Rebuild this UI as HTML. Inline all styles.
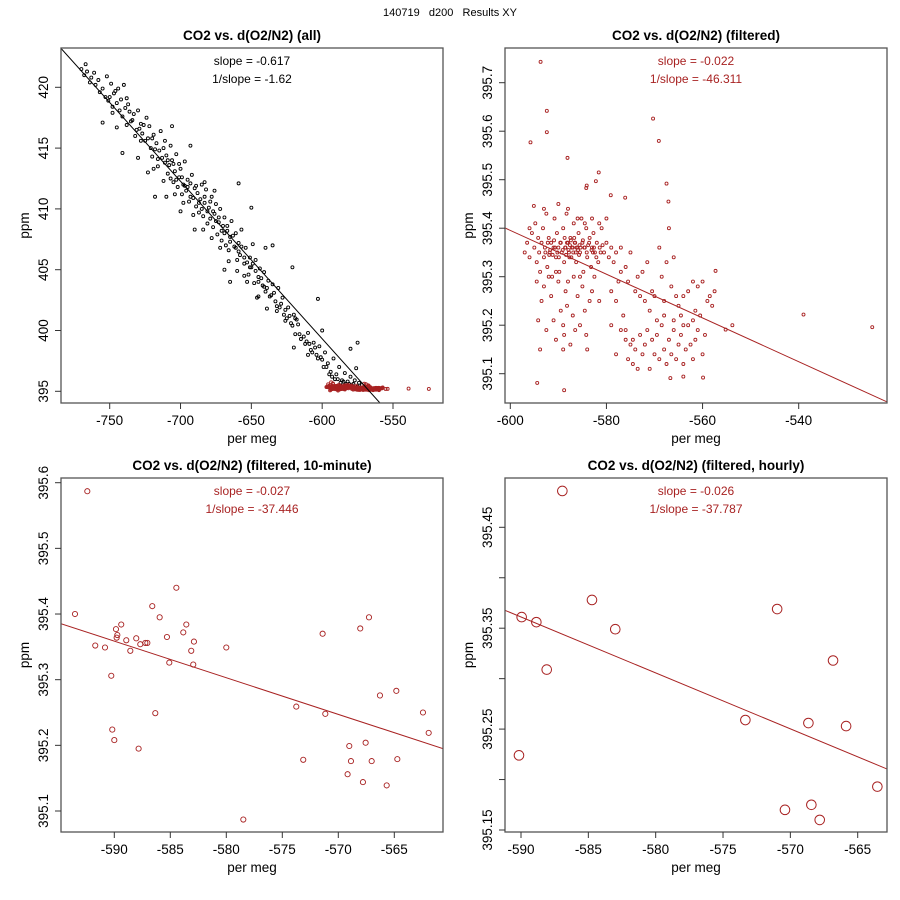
<!DOCTYPE html>
<html><head><meta charset="utf-8"><style>
body{margin:0;background:#fff}
svg{display:block;font-family:"Liberation Sans",sans-serif}
</style></head><body>
<svg id="c" width="900" height="900" viewBox="0 0 900 900">
<text x="450" y="16" text-anchor="middle" font-size="11" style="white-space:pre" xml:space="preserve">140719   d200   Results XY</text>
</svg>
<script>
// ---- data ----
const allX = [-770,-767,-766,-763,-760,-758,-755,-752,-750,-749,-747,-745,-744,-742,-740,-739,-738,-736,-735,-733,-731,-730,-728,-727,-725,-724,-722,-721,-720,-719,-717,-716,-715,-714,-712,-711,-710,-709,-708,-707,-706,-705,-704,-703,-702,-701,-700,-699,-698,-697,-696,-695,-694,-693,-692,-690,-689,-688,-687,-686,-685,-684,-683,-682,-681,-680,-679,-678,-677,-676,-675,-674,-673,-672,-671,-670,-669,-668,-667,-666,-665,-664,-662,-661,-660,-659,-658,-657,-655,-654,-652,-651,-650,-649,-648,-647,-645,-644,-642,-641,-640,-638,-636,-635,-633,-631,-630,-628,-627,-625,-624,-622,-620,-619,-617,-615,-612,-610,-608,-606,-604,-602,-600,-598,-596,-594,-592,-590,-588,-586,-584,-582,-580,-578,-576,-574,-572,
-755,-741,-723,-718,-706,-693,-683,-676,-669,-659,-650,-640,-635,-621,-619,-603,-620,-600,-575,-610,-580,-700,-710,-730,-745,-690,-665,-655,-645,
-768,-764,-761,-757,-753,-751,-748,-746,-743,-741,-737,-734,-732,-729,-726,-723,-720,-718,-716,-713,-711,-709,-707,-705,-703,-701,-699,-697,-695,-693,-691,-689,-687,-685,-683,-681,-679,-677,-675,-673,-671,-669,-667,-665,-663,-661,-659,-657,-655,-653,-651,-649,-647,-645,-643,-641,-639,-637,-634,-632,-629,-626,-623,-621,-618,-616,-613,-611,-609,-607,-605,-603,-601,-599,-597,-595,-593,-591,-589,-587,-585,-583,-581,-579,-577,-575,-573,
-748,-738,-728,-719,-712,-704,-698,-691,-684,-678,-672,-666,-660,-653,-646,-639,-632,-626];
const allY = [421.5,421.9,421.3,420.8,420.2,420.6,419.9,420.9,419.2,420.3,419.5,418.7,419.9,419.0,420.2,418.3,419.1,418.0,417.2,417.8,416.5,418.1,417.0,416.2,415.6,417.5,416.8,415.0,414.3,416.1,415.4,413.5,414.8,416.4,415.0,413.8,414.4,412.9,413.6,415.2,414.0,412.2,413.1,414.5,411.8,412.6,413.3,411.2,412.0,413.9,411.5,412.4,410.6,411.0,412.8,411.7,410.2,411.3,409.7,410.8,412.0,409.4,410.5,411.6,408.8,410.1,409.2,411.0,408.5,409.6,410.4,407.9,408.9,410.0,407.4,408.6,409.3,407.0,408.2,406.6,407.7,409.0,406.9,408.0,405.8,407.2,406.2,408.3,405.5,406.8,404.6,406.0,405.2,407.1,403.9,405.8,404.4,405.1,403.7,404.8,403.2,404.1,402.9,403.8,402.4,403.5,401.9,402.7,401.3,401.0,401.9,400.6,401.3,399.7,400.5,399.3,398.9,399.8,398.4,399.0,398.0,398.7,397.6,398.2,397.3,396.6,397.7,396.4,397.0,395.9,396.5,395.8,396.2,395.6,396.9,395.7,395.5,
417.1,414.6,413.0,411.0,416.8,415.2,412.2,411.5,405.0,412.1,410.1,406.8,407.0,405.2,401.0,402.6,398.6,400.0,399.0,398.0,398.5,409.8,411.0,414.2,416.7,408.3,404.0,404.5,402.8,
421.0,420.4,421.2,419.6,419.2,418.9,418.4,419.7,418.1,417.6,418.6,417.3,416.0,416.6,416.9,415.8,415.8,414.9,414.1,414.2,415.6,414.0,412.5,413.7,412.4,413.7,412.6,411.9,411.8,412.1,410.9,411.9,410.5,410.0,411.0,409.8,410.6,409.8,409.0,409.3,408.2,408.0,408.6,407.3,407.8,406.8,406.5,406.9,406.0,405.6,405.2,405.5,404.9,404.0,404.3,403.6,403.5,402.8,403.1,402.0,402.2,401.7,401.2,400.4,400.9,399.7,399.5,399.1,398.9,398.2,398.6,397.7,397.8,397.0,397.0,396.4,396.2,396.0,396.0,395.7,395.8,395.6,395.6,395.5,395.9,395.4,395.3,
417.9,416.9,415.6,413.3,412.3,411.2,410.5,409.5,408.3,407.6,406.8,405.7,404.9,404.0,402.7,401.8,401.6,400.8];
const filtX = [-597,-596.5,-596,-595.5,-595,-594.8,-594.5,-594.2,-594,-593.8,-593.5,-593.2,-593,-592.8,-592.5,-592.3,-592,-591.8,-591.5,-591.3,-591,-590.8,-590.5,-590.3,-590,-589.8,-589.5,-589.3,-589,-588.8,-588.5,-588.3,-588,-587.8,-587.5,-587.3,-587,-586.8,-586.5,-586.3,-586,-585.8,-585.5,-585.2,-585,-584.8,-584.5,-584.2,-584,-583.5,-583.2,-583,-582.7,-582.4,-582,-581.7,-581.4,-581,-580.5,-580,-579.5,-579,-578.5,-578,-577,-576,-577.5,
-596,-593,-590,-588,-586,-584.5,-583,-581.5,-580,
-594.2,-593.8,-593.5,-593,-592.5,-592,-591.5,-591,-590.5,-590,-589.5,-589,-588.8,-588.5,-588.2,-588,-587.5,-587,-586.8,-586.5,-586,-585.5,-585,-584.5,-584.2,-584,-583.5,-583,-582.5,-581.5,-594.5,-590.5,-589,-585.5,
-579,-578,-577,-576.5,-576,-575.5,-575,-574.5,-574,-573.5,-573,-572.5,-572,-571.5,-571,-570.5,-570,-569.5,-569,-568.5,-568,-567.5,-567,-566.5,-566,-565.5,-565,-564.5,-564,-563,-562,-561.5,-561,-560.5,-560,-559.5,-559,-558.5,-558,-557.5,
-576,-575.5,-575,-574.5,-574,-573.5,-573,-572.5,-572,-571.5,-571,-570.5,-570,-569.5,-569,-568.5,-568,-567.5,-567,-566.5,-566,-565.5,-565,-564.5,-564,-563.5,-563,-562.5,-562,-561.5,-561,-560,-577,-578,-579,-568,-566,-564,-562,
-593.7,-592.4,-592.4,-595.8,-588.1,-581.6,-582.2,-584.1,-584.2,-579.1,-576.1,-570.3,-569.1,-567.5,-567.1,-595.1,-539.0,-524.7,-594.4,-588.8,-566.7,-564.0,-559.9,-557.3,-553.8,-555.2,
-588.6,-588.2,-587.9,-587.6,-587.2,-586.9,-586.6,-586.2,-585.9,-585.6,-588.4,-587.4,-586.4,-585.4,-589.1,-589.6,-590.2,-590.7,-591.2,-591.7,-592.2,-592.7,-584.6,-584.1,-583.6,-583.1,-582.6,-582.1,-581.2,-580.8,-588.7,-587.7,-586.7,-585.7,-584.9,-589.9,-590.9,-591.9,-583.8,-582.8];
const filtY = [395.35,395.37,395.34,395.39,395.36,395.41,395.33,395.38,395.35,395.31,395.37,395.40,395.34,395.36,395.43,395.32,395.38,395.35,395.37,395.30,395.36,395.42,395.34,395.39,395.36,395.31,395.37,395.35,395.40,395.33,395.36,395.43,395.37,395.35,395.38,395.34,395.36,395.41,395.37,395.33,395.36,395.39,395.35,395.42,395.37,395.31,395.36,395.40,395.34,395.38,395.32,395.36,395.39,395.35,395.37,395.33,395.36,395.40,395.35,395.37,395.34,395.36,395.33,395.35,395.36,395.32,395.29,
395.40,395.44,395.45,395.44,395.42,395.41,395.42,395.41,395.42,
395.21,395.15,395.25,395.28,395.19,395.30,395.26,395.21,395.17,395.29,395.23,395.20,395.18,395.27,395.24,395.29,395.16,395.22,395.30,395.19,395.26,395.20,395.28,395.23,395.18,395.15,395.25,395.27,395.30,395.25,395.29,395.31,395.15,395.30,
395.27,395.25,395.31,395.22,395.19,395.29,395.35,395.17,395.27,395.30,395.26,395.31,395.25,395.33,395.23,395.27,395.26,395.21,395.36,395.30,395.25,395.33,395.40,395.28,395.34,395.26,395.24,395.22,395.26,395.27,395.29,395.23,395.28,395.22,395.29,395.18,395.25,395.26,395.24,395.27,
395.17,395.13,395.16,395.12,395.15,395.11,395.18,395.14,395.16,395.19,395.11,395.17,395.14,395.18,395.13,395.20,395.15,395.12,395.17,395.14,395.19,395.13,395.16,395.18,395.12,395.15,395.20,395.16,395.13,395.17,395.19,395.14,395.19,395.14,395.20,395.22,395.21,395.20,395.21,
395.743,395.642,395.598,395.577,395.545,395.515,395.497,395.488,395.483,395.468,395.463,395.626,395.580,395.492,395.455,395.446,395.222,395.196,395.081,395.066,395.091,395.094,395.092,395.312,395.200,395.191,
395.36,395.37,395.355,395.365,395.36,395.35,395.37,395.36,395.355,395.365,395.345,395.375,395.35,395.36,395.355,395.37,395.35,395.36,395.345,395.355,395.37,395.35,395.36,395.35,395.37,395.355,395.36,395.34,395.35,395.365,395.38,395.34,395.38,395.345,395.375,395.34,395.375,395.345,395.365,395.35];
const tenX = [-592.41,-593.51,-591.70,-590.83,-590.27,-590.18,-590.00,-589.85,-589.73,-589.79,-589.38,-588.93,-588.57,-588.04,-587.68,-587.23,-587.05,-587.83,-586.61,-586.34,-585.95,-585.30,-585.09,-584.46,-583.84,-583.57,-583.13,-582.89,-582.95,-580.00,-578.48,-573.75,-573.13,-571.40,-571.16,-569.02,-569.17,-568.87,-568.04,-567.80,-567.56,-567.26,-567.02,-566.28,-565.68,-564.82,-564.73,-562.44,-561.93];
const tenY = [395.587,395.400,395.352,395.349,395.306,395.224,395.208,395.377,395.368,395.364,395.384,395.360,395.344,395.363,395.354,395.356,395.356,395.195,395.412,395.249,395.395,395.365,395.326,395.440,395.372,395.384,395.344,395.358,395.323,395.349,395.087,395.259,395.178,395.370,395.248,395.199,395.156,395.176,395.378,395.144,395.204,395.395,395.176,395.276,395.139,395.283,395.179,395.250,395.219];
const hourX = [-586.93,-584.73,-589.95,-588.86,-583.0,-588.09,-570.98,-566.83,-573.34,-568.66,-565.86,-590.15,-563.54,-568.44,-570.4,-567.82];
const hourY = [395.486,395.378,395.361,395.356,395.349,395.309,395.369,395.318,395.259,395.256,395.253,395.224,395.193,395.175,395.170,395.160];
// fit lines: [x0, y0, x1, y1]
const fitAll = [-784.4, 423.2, -559.2, 394.04];
const fitFilt = [-601.1, 395.4004, -521.6, 395.0417];
const fitTen = [-594.76, 395.3853, -560.65, 395.195];
const fitHour = [-591.19, 395.3677, -562.83, 395.2105];
const xTicksAll = [-750,-700,-650,-600,-550];
const yTicksAll = [395,400,405,410,415,420];
const xTicksFilt = [-600,-580,-560,-540];
const yTicksFilt = [395.1,395.2,395.3,395.4,395.5,395.6,395.7];
const xTicksTen = [-590,-585,-580,-575,-570,-565];
const yTicksTen = [395.1,395.2,395.3,395.4,395.5,395.6];
const xTicksHour = [-590,-585,-580,-575,-570,-565];
const yTicksHour = [395.15,395.2,395.25,395.3,395.35,395.4,395.45];
const yLabelsHour = ["395.15","","395.25","","395.35","","395.45"];

const NS = "http://www.w3.org/2000/svg";
const svg = document.getElementById('c');
const RED = "#a82222";
function mk(tag, attrs, parent) {
  const e = document.createElementNS(NS, tag);
  for (const k in attrs) e.setAttribute(k, attrs[k]);
  (parent || svg).appendChild(e);
  return e;
}
function panel(o) {
  const g = mk('g', {});
  
  
  const sx = v => o.px0 + (v - o.vx0) * (o.px1 - o.px0) / (o.vx1 - o.vx0);
  const sy = v => o.py0 + (v - o.vy0) * (o.py1 - o.py0) / (o.vy1 - o.vy0);
  const cp = mk('clipPath', {id: o.name + '-clip'}, g);
  mk('rect', {x: o.L, y: o.T, width: o.R - o.L, height: o.B - o.T}, cp);
  const t = mk('text', {x: (o.L + o.R) / 2, y: o.T - 8, 'text-anchor': 'middle', 'font-size': 13.5, 'font-weight': 'bold'}, g);
  t.textContent = o.title;
  
  
  const pts = mk('g', {'clip-path': 'url(#' + o.name + '-clip)'}, g);
  
  
  o.series.forEach(s => {
    for (let i = 0; i < s.x.length; i++) {
      const c = mk('circle', {cx: sx(s.x[i]), cy: sy(s.y[i]), r: s.r, fill: 'none', stroke: s.color, 'stroke-width': s.sw || 0.8}, pts);
      
      
    }
  });
  const f = o.fit;
  const ln = mk('line', {x1: sx(f[0]), y1: sy(f[1]), x2: sx(f[2]), y2: sy(f[3]), stroke: o.fitColor, 'stroke-width': 1, 'clip-path': 'url(#' + o.name + '-clip)'}, g);
  
  
  const box = mk('rect', {x: o.L, y: o.T, width: o.R - o.L, height: o.B - o.T, fill: 'none', stroke: '#555', 'stroke-width': 1.3}, g);
  
  
  o.xt.forEach(v => {
    const x = sx(v);
    mk('line', {x1: x, y1: o.B, x2: x, y2: o.B + 6, stroke: '#333'}, g);
    const tl = mk('text', {x: x, y: o.B + 22, 'text-anchor': 'middle', 'font-size': 13.5}, g);
    tl.textContent = v;
    
    
  });
  o.yt.forEach((v, i) => {
    const y = sy(v);
    mk('line', {x1: o.L, y1: y, x2: o.L - 6, y2: y, stroke: '#333'}, g);
    const lab = o.yl ? o.yl[i] : String(v);
    if (lab) {
      const tl = mk('text', {x: 0, y: 0, 'text-anchor': 'middle', 'font-size': 13.5, transform: 'translate(' + (o.L - 13) + ',' + y + ') rotate(-90)'}, g);
      tl.textContent = lab;
      
      
    }
  });
  const xl = mk('text', {x: (o.L + o.R) / 2, y: o.B + 40, 'text-anchor': 'middle', 'font-size': 13.5}, g);
  xl.textContent = 'per meg';
  
  
  const yl = mk('text', {x: 0, y: 0, 'text-anchor': 'middle', 'font-size': 13.5, transform: 'translate(' + (o.L - 32) + ',' + ((o.T + o.B) / 2) + ') rotate(-90)'}, g);
  yl.textContent = 'ppm';
  
  
  o.notes.forEach((n, i) => {
    const tn = mk('text', {x: o.noteX, y: o.T + 17 + i * 18, 'text-anchor': 'middle', 'font-size': 12, fill: o.noteColor}, g);
    tn.textContent = n;
    
    
  });
}
panel({name:'panel-all', title:'CO2 vs. d(O2/N2) (all)', L:61, R:443, T:48, B:403,
  vx0:-750, vx1:-550, px0:109.7, px1:393, vy0:420, vy1:395, py0:87.3, py1:391.3,
  xt:xTicksAll, yt:yTicksAll, fit:fitAll, fitColor:'#000', noteX:252, noteColor:'#000',
  notes:['slope = -0.617','1/slope = -1.62'],
  series:[{x:allX,y:allY,r:1.5,color:'#000',sw:0.9},{x:filtX,y:filtY,r:1.5,color:RED,sw:0.9}]});
panel({name:'panel-filtered', title:'CO2 vs. d(O2/N2) (filtered)', L:505, R:887, T:48, B:403,
  vx0:-600, vx1:-540, px0:510.3, px1:798.7, vy0:395.7, vy1:395.1, py0:82.7, py1:373.7,
  xt:xTicksFilt, yt:yTicksFilt, fit:fitFilt, fitColor:RED, noteX:696, noteColor:RED,
  notes:['slope = -0.022','1/slope = -46.311'],
  series:[{x:filtX,y:filtY,r:1.5,color:RED,sw:0.9}]});
panel({name:'panel-10-minute', title:'CO2 vs. d(O2/N2) (filtered, 10-minute)', L:61, R:443, T:478, B:832,
  vx0:-590, vx1:-565, px0:114.3, px1:394.3, vy0:395.6, vy1:395.1, py0:482.7, py1:811,
  xt:xTicksTen, yt:yTicksTen, fit:fitTen, fitColor:RED, noteX:252, noteColor:RED,
  notes:['slope = -0.027','1/slope = -37.446'],
  series:[{x:tenX,y:tenY,r:2.6,color:RED,sw:0.9}]});
panel({name:'panel-hourly', title:'CO2 vs. d(O2/N2) (filtered, hourly)', L:505, R:887, T:478, B:832,
  vx0:-590, vx1:-565, px0:521, px1:857.7, vy0:395.45, vy1:395.15, py0:527.3, py1:830,
  xt:xTicksHour, yt:yTicksHour, yl:yLabelsHour, fit:fitHour, fitColor:RED, noteX:696, noteColor:RED,
  notes:['slope = -0.026','1/slope = -37.787'],
  series:[{x:hourX,y:hourY,r:4.8,color:RED,sw:1}]});
</script>
</body></html>
